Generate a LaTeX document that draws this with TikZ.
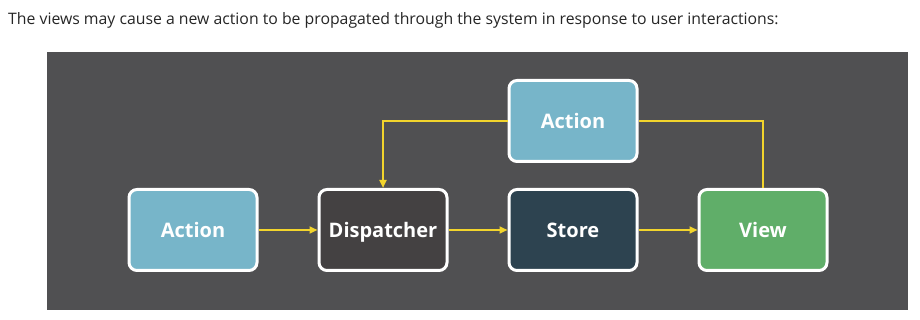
\documentclass[tikz,border=0pt]{standalone}
\usepackage{fontspec}
\setmainfont{Open Sans}
\usetikzlibrary{arrows.meta,positioning}
\definecolor{panelgray}{HTML}{505052}
\definecolor{actionblue}{HTML}{77B5C9}
\definecolor{dispgray}{HTML}{444142}
\definecolor{storeblue}{HTML}{2D4350}
\definecolor{viewgreen}{HTML}{60AE69}
\definecolor{flowyellow}{HTML}{F2D42C}
\tikzset{
  box/.style={draw=white, line width=3pt, rounded corners=8pt, align=center, minimum width=128pt, minimum height=81pt, inner sep=2pt, text height=14.5pt, text depth=0pt, text=white, font=\fontsize{20}{24}\selectfont\bfseries},
  action/.style={fill=actionblue},
  dispatch/.style={fill=dispgray},
  store/.style={fill=storeblue},
  view/.style={fill=viewgreen},
  arrow/.style={-{Triangle[length=8pt, width=7pt]}, line width=2pt, draw=flowyellow},
  link/.style={line width=2pt, draw=flowyellow}
}
\begin{document}
\begin{tikzpicture}[x=1pt, y=1pt, node distance=59pt]
  \useasboundingbox (0,0) rectangle (920,320);
  \fill[white] (0,0) rectangle (920,320);
  \node[anchor=west, font=\fontsize{15.8}{18}\selectfont, text=black!85, inner sep=0pt] (caption) at (8,300)
    {The views may cause a new action to be propagated through the system in response to user interactions:};
  \fill[panelgray] (47,10) rectangle (908,268);
  % main flow
  \node[box, action] (act) at (193,90) {Action};
  \node[box, dispatch, right=of act] (disp) {Dispatcher};
  \node[box, store, right=of disp] (store) {Store};
  \node[box, view, right=of store] (view) {View};
  % new action from the view
  \node[box, action, above=25pt of store] (newact) {Action};
  \draw[arrow] (act) -- (disp);
  \draw[arrow] (disp) -- (store);
  \draw[arrow] (store) -- (view);
  \draw[link] (view.north) |- (newact.east);
  \draw[arrow] (newact.west) -| (disp.north);
\end{tikzpicture}
\end{document}
